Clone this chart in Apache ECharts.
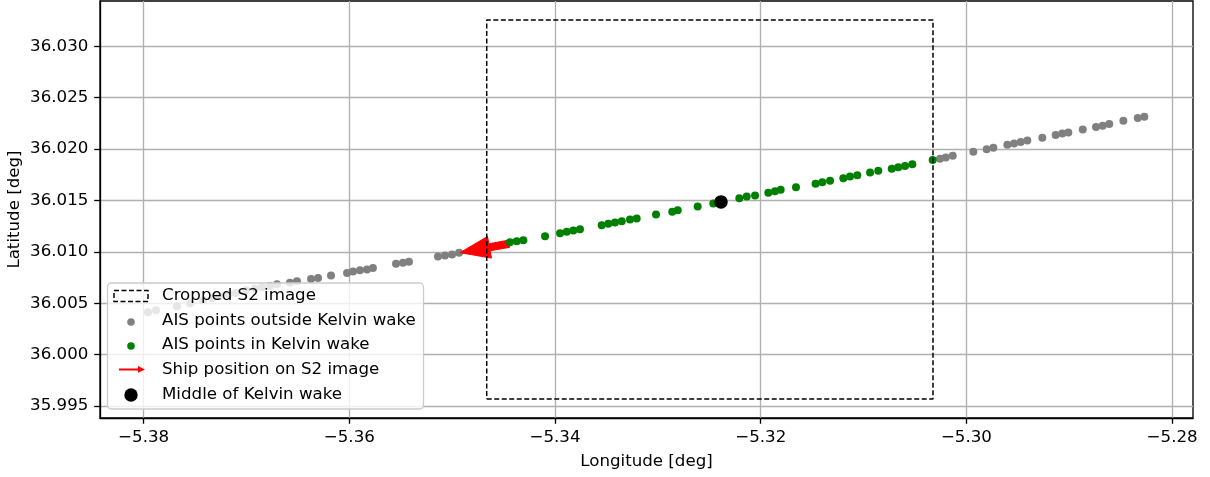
<!DOCTYPE html>
<html><head><meta charset="utf-8">
<script src="https://cdn.jsdelivr.net/npm/echarts@6/dist/echarts.min.js"></script>
<style>html,body{margin:0;padding:0;background:#fff}#c{width:1210px;height:477px}</style>
</head><body><div id="c"></div>
<script>
// ---- data ----
const xTicks = [-5.38, -5.36, -5.34, -5.32, -5.30, -5.28];
const xTickLabels = ['−5.38', '−5.36', '−5.34', '−5.32', '−5.30', '−5.28'];
const yTicks = [35.995, 36.000, 36.005, 36.010, 36.015, 36.020, 36.025, 36.030];
const yTickLabels = ['35.995', '36.000', '36.005', '36.010', '36.015', '36.020', '36.025', '36.030'];
const xRange = [-5.38424, -5.27797];
const yRange = [35.99384, 36.03440];

const outsideLon = [-5.37957, -5.37880, -5.37675, -5.37549, -5.37423, -5.37335, -5.37257, -5.37170, -5.37102, -5.37004,
  -5.36917, -5.36849, -5.36771, -5.36703, -5.36577, -5.36509, -5.36372, -5.36304, -5.36178, -5.36022,
  -5.35964, -5.35896, -5.35828, -5.35770, -5.35546, -5.35478, -5.35420, -5.35138, -5.35070, -5.35001, -5.34933,
  -5.30257, -5.30201, -5.30133, -5.29933, -5.29803, -5.29738, -5.29602, -5.29537, -5.29472, -5.29408,
  -5.29262, -5.29132, -5.29068, -5.29009, -5.28869, -5.28740, -5.28675, -5.28611, -5.28474, -5.28334, -5.28270];
const outsideLat = [36.00412, 36.00432, 36.00470, 36.00500, 36.00529, 36.00548, 36.00567, 36.00587, 36.00601, 36.00626,
  36.00640, 36.00655, 36.00669, 36.00684, 36.00700, 36.00713, 36.00735, 36.00745, 36.00771, 36.00794,
  36.00810, 36.00820, 36.00829, 36.00842, 36.00885, 36.00894, 36.00904, 36.00956, 36.00965, 36.00975, 36.00991,
  36.01906, 36.01919, 36.01936, 36.01974, 36.01997, 36.02013, 36.02042, 36.02055, 36.02069, 36.02084,
  36.02110, 36.02136, 36.02152, 36.02162, 36.02191, 36.02214, 36.02227, 36.02243, 36.02275, 36.02301, 36.02314];

const insideLon = [-5.34438, -5.34372, -5.34308, -5.34097, -5.33951, -5.33886, -5.33822, -5.33757, -5.33546, -5.33482,
  -5.33417, -5.33351, -5.33271, -5.33206, -5.33018, -5.32860, -5.32807, -5.32613, -5.32461, -5.32208,
  -5.32136, -5.32055, -5.31926, -5.31861, -5.31806, -5.31657, -5.31467, -5.31401, -5.31326, -5.31197,
  -5.31132, -5.31061, -5.30937, -5.30857, -5.30726, -5.30662, -5.30597, -5.30526, -5.30328];
const insideLat = [36.01094, 36.01104, 36.01114, 36.01153, 36.01182, 36.01195, 36.01208, 36.01220, 36.01259, 36.01273,
  36.01285, 36.01298, 36.01315, 36.01324, 36.01363, 36.01389, 36.01405, 36.01441, 36.01470, 36.01521,
  36.01538, 36.01547, 36.01574, 36.01589, 36.01603, 36.01628, 36.01662, 36.01676, 36.01691, 36.01715,
  36.01732, 36.01744, 36.01771, 36.01790, 36.01809, 36.01822, 36.01836, 36.01851, 36.01894];

const middleLon = [-5.32386];
const middleLat = [36.01486];

const arrowTail = [-5.34447, 36.01079];
const arrowTip = [-5.34924, 36.00992];

const cropLon = [-5.34664, -5.30325];
const cropLat = [35.99568, 36.03255];

const legendLabels = ['Cropped S2 image', 'AIS points outside Kelvin wake', 'AIS points in Kelvin wake',
  'Ship position on S2 image', 'Middle of Kelvin wake'];

// ---- build ----
const FONT = 'DejaVu Sans';
const FS = 16.67;
const zip = (a, b) => a.map((v, i) => [v, b[i]]);
const cropPath = [[cropLon[0], cropLat[0]], [cropLon[1], cropLat[0]], [cropLon[1], cropLat[1]],
  [cropLon[0], cropLat[1]], [cropLon[0], cropLat[0]]];

const chart = echarts.init(document.getElementById('c'), null, {renderer: 'canvas'});

const legendRows = [295.7, 320.7, 345, 369.3, 394.3];
const legendGraphics = [
  {type: 'rect', shape: {x: 107.5, y: 283, width: 316, height: 126, r: 4},
   style: {fill: 'rgba(255,255,255,0.8)', stroke: '#cccccc', lineWidth: 1.33}, z: 100},
  {type: 'rect', shape: {x: 114, y: 290.5, width: 34, height: 11},
   style: {fill: 'none', stroke: '#000', lineWidth: 1.5, lineDash: [5, 2.5]}, z: 101},
  {type: 'circle', shape: {cx: 131, cy: 322, r: 3.8}, style: {fill: '#808080'}, z: 101},
  {type: 'circle', shape: {cx: 131, cy: 346, r: 3.8}, style: {fill: '#008000'}, z: 101},
  {type: 'polygon', shape: {points: [[119, 368.4], [138, 368.4], [138, 366], [145, 369.4], [138, 372.8], [138, 370.4], [119, 370.4]]},
   style: {fill: '#ff0000'}, z: 101},
  {type: 'circle', shape: {cx: 131, cy: 395, r: 6.7}, style: {fill: '#000'}, z: 101}
];
legendLabels.forEach((t, i) => legendGraphics.push({
  type: 'text', x: 162, y: legendRows[i], z: 101,
  style: {text: t, font: FS + 'px "' + FONT + '"', fill: '#000', verticalAlign: 'middle', align: 'left'}
}));

function axisCommon(ticks, labels) {
  return {
    axisLine: {show: true, onZero: false, lineStyle: {color: '#000', width: 1.33}},
    axisTick: {show: true, inside: false, length: 5.8, lineStyle: {color: '#000', width: 1.33}, customValues: ticks},
    axisLabel: {show: true, margin: 11.6, color: '#000', fontFamily: FONT, fontSize: FS,
      customValues: ticks,
      formatter: v => { const i = ticks.findIndex(t => Math.abs(t - v) < 1e-7); return i >= 0 ? labels[i] : ''; }},
    splitLine: {show: true, lineStyle: {color: '#b0b0b0', width: 1.33}},
    nameMoveOverlap: false,
    nameTextStyle: {color: '#000', fontFamily: FONT, fontSize: FS}
  };
}

const option = {
  animation: false,
  backgroundColor: '#fff',
  grid: {left: 100, right: 17, top: 1, bottom: 59, show: true, borderColor: '#000', borderWidth: 1.33,
    backgroundColor: 'transparent', containLabel: false, outerBoundsMode: 'none'},
  xAxis: Object.assign({type: 'value', min: xRange[0], max: xRange[1], splitNumber: 5, scale: true,
    name: 'Longitude [deg]', nameLocation: 'middle', nameGap: 35}, axisCommon(xTicks, xTickLabels)),
  yAxis: Object.assign({type: 'value', min: yRange[0], max: yRange[1], splitNumber: 8, scale: true,
    name: 'Latitude [deg]', nameLocation: 'middle', nameGap: 77}, axisCommon(yTicks, yTickLabels)),
  graphic: legendGraphics,
  series: [
    {type: 'scatter', name: 'AIS points outside Kelvin wake', data: zip(outsideLon, outsideLat), symbolSize: 8,
     itemStyle: {color: '#808080', opacity: 1}, z: 2, silent: true},
    {type: 'custom', name: 'Ship position on S2 image', z: 3, silent: true,
     data: [[arrowTail[0], arrowTail[1], arrowTip[0], arrowTip[1]]],
     encode: {x: [0, 2], y: [1, 3]},
     renderItem: function (params, api) {
       const t = api.coord([api.value(0), api.value(1)]);
       const h = api.coord([api.value(2), api.value(3)]);
       const dx = h[0] - t[0], dy = h[1] - t[1];
       const len = Math.sqrt(dx * dx + dy * dy);
       const ux = dx / len, uy = dy / len;
       const nx = -uy, ny = ux;
       const HL = 30, HW = 11, SW = 3.6;
       const bx = h[0] - ux * HL, by = h[1] - uy * HL;
       const pts = [
         [h[0], h[1]],
         [bx + nx * HW, by + ny * HW],
         [bx + nx * SW, by + ny * SW],
         [t[0] + nx * SW, t[1] + ny * SW],
         [t[0] - nx * SW, t[1] - ny * SW],
         [bx - nx * SW, by - ny * SW],
         [bx - nx * HW, by - ny * HW]
       ];
       return {type: 'polygon', shape: {points: pts}, style: {fill: '#ff0000', stroke: '#ff0000', lineWidth: 1}};
     }},
    {type: 'scatter', name: 'AIS points in Kelvin wake', data: zip(insideLon, insideLat), symbolSize: 8,
     itemStyle: {color: '#008000', opacity: 1}, z: 4, silent: true},
    {type: 'scatter', name: 'Middle of Kelvin wake', data: zip(middleLon, middleLat), symbolSize: 13.5,
     itemStyle: {color: '#000', opacity: 1}, z: 5, silent: true},
    {type: 'line', name: 'Cropped S2 image', data: cropPath, showSymbol: false, symbol: 'none',
     lineStyle: {color: '#000', width: 1.5, type: [5, 2.5]}, z: 6, silent: true}
  ]
};
chart.setOption(option);
</script></body></html>
